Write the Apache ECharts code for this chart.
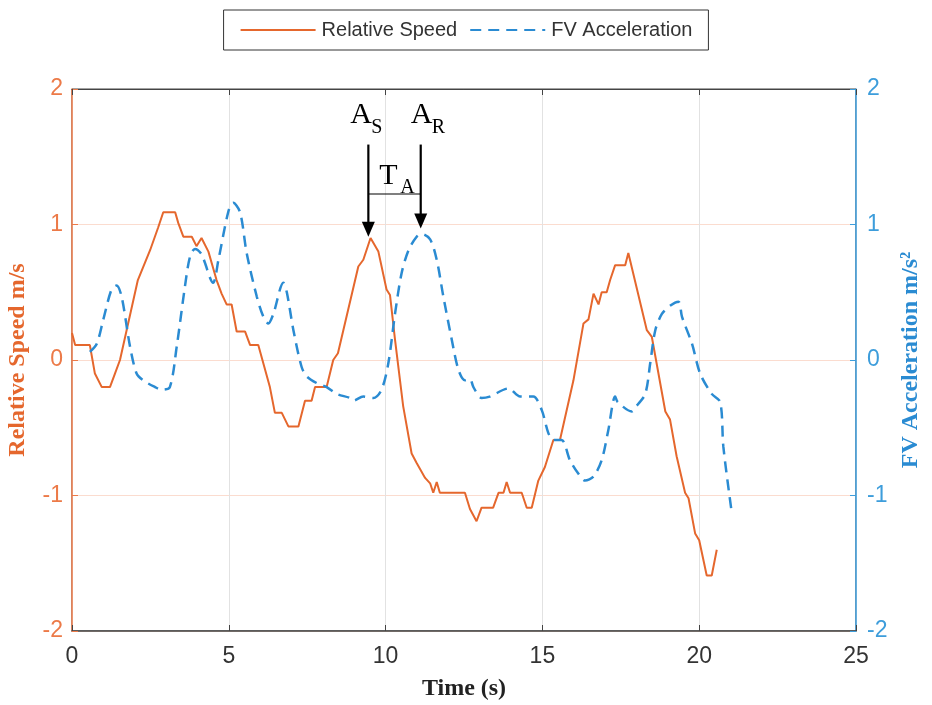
<!DOCTYPE html>
<html lang="en">
<head>
  <meta charset="UTF-8">
  <title>Relative Speed and FV Acceleration</title>
  <script src="https://cdn.jsdelivr.net/npm/echarts@6.0.0/dist/echarts.min.js"></script>
  <style>
    html, body { margin: 0; padding: 0; background: #fff; }
    #chart { width: 932px; height: 705px; }
  </style>
</head>
<body>
  <div id="chart"></div>
  <script>
    // Relative speed (left axis, m/s)
    const speedT = [0, 0.1, 0.57, 0.73, 0.95, 1.21, 1.37, 1.53, 2.1, 2.49, 2.75, 2.91, 3.29, 3.39, 3.55, 3.82,
      3.97, 4.13, 4.35, 4.61, 4.77, 4.93, 5.09, 5.25, 5.52, 5.68, 5.94, 6.31, 6.47, 6.69, 6.9, 7.22, 7.43, 7.64,
      7.75, 8.12, 8.33, 8.48, 9.13, 9.29, 9.52, 9.77, 10.03, 10.14, 10.3, 10.56, 10.83, 10.99, 11.26, 11.42,
      11.52, 11.63, 11.73, 12.53, 12.69, 12.9, 13.06, 13.43, 13.6, 13.76, 13.86, 13.97, 14.34, 14.5, 14.66,
      14.87, 15.08, 15.35, 15.56, 15.99, 16.31, 16.47, 16.63, 16.79, 16.89, 17.05, 17.16, 17.32, 17.64, 17.74,
      18.33, 18.49, 18.92, 19.07, 19.28, 19.55, 19.66, 19.87, 20.0, 20.24, 20.4, 20.56];
    const speedV = [0.2, 0.11, 0.11, -0.1, -0.2, -0.2, -0.1, 0, 0.59, 0.81, 0.98, 1.09, 1.09, 1.01, 0.91, 0.91,
      0.84, 0.9, 0.8, 0.59, 0.49, 0.41, 0.41, 0.21, 0.21, 0.11, 0.11, -0.2, -0.39, -0.39, -0.49, -0.49, -0.3, -0.3,
      -0.2, -0.2, 0, 0.05, 0.69, 0.74, 0.9, 0.8, 0.52, 0.48, 0.15, -0.34, -0.69, -0.76, -0.87, -0.91,
      -0.98, -0.9, -0.98, -0.98, -1.1, -1.19, -1.09, -1.09, -0.98, -0.98, -0.9, -0.98, -0.98, -1.09, -1.09,
      -0.89, -0.79, -0.59, -0.59, -0.15, 0.27, 0.3, 0.49, 0.41, 0.5, 0.5, 0.59, 0.7, 0.7, 0.79,
      0.22, 0.17, -0.38, -0.44, -0.71, -0.98, -1.02, -1.28, -1.33, -1.59, -1.59, -1.4];

    // FV acceleration (right axis, m/s^2)
    const accT = [0.57, 0.79, 1.0, 1.26, 1.42, 1.58, 1.85, 2.06, 2.27, 2.65, 2.86, 3.12, 3.34, 3.6, 3.76, 3.92,
      4.13, 4.5, 4.67, 4.99, 5.14, 5.36, 5.57, 5.89, 6.1, 6.26, 6.42, 6.74, 6.85, 7.06, 7.32, 7.48, 7.8, 8.12,
      8.44, 8.86, 8.97, 9.29, 9.61, 9.87, 10.09, 10.3, 10.51, 10.73, 10.99, 11.15, 11.42, 11.63, 11.84, 12.11,
      12.32, 12.53, 12.69, 12.8, 13.06, 13.32, 13.92, 14.29, 14.71, 14.98, 15.19, 15.35, 15.61, 15.88, 16.15,
      16.36, 16.63, 16.89, 17.1, 17.32, 17.4, 17.85, 18.0, 18.28, 18.44, 18.6, 18.81, 19.07, 19.34, 19.45,
      19.77, 20.03, 20.4, 20.67, 20.77, 21.04];
    const accV = [0.06, 0.12, 0.3, 0.52, 0.55, 0.47, 0.1, -0.1, -0.15, -0.2, -0.22, -0.2, 0.1, 0.54, 0.76, 0.82,
      0.78, 0.57, 0.74, 1.1, 1.16, 1.09, 0.79, 0.47, 0.32, 0.27, 0.34, 0.57, 0.5, 0.22, -0.05, -0.12, -0.17, -0.2,
      -0.25, -0.28, -0.3, -0.27, -0.28, -0.22, -0.02, 0.34, 0.64, 0.81, 0.91, 0.93, 0.89, 0.74, 0.47, 0.15,
      -0.07, -0.15, -0.14, -0.2, -0.28, -0.27, -0.21, -0.27, -0.27, -0.37, -0.54, -0.59, -0.59, -0.74, -0.84,
      -0.89, -0.86, -0.74, -0.52, -0.27, -0.31, -0.38, -0.34, -0.25, -0.02, 0.22, 0.34, 0.4, 0.43, 0.32,
      0.12, -0.1, -0.25, -0.31, -0.64, -1.13];

    // annotation anchors (data units)
    const arrowS = { t: 9.45, top: 1.59, tip: 0.91 };
    const arrowR = { t: 11.12, top: 1.59, tip: 0.97 };
    const barY = 1.225;

    const orange = '#E5672D';
    const orangeAxis = '#EC7A48';
    const blue = '#2A8BD2';
    const blueAxis = '#3D9DDB';
    const serif = 'Liberation Serif, Times New Roman, serif';

    const chart = echarts.init(document.getElementById('chart'));

    const option = {
      animation: false,
      textStyle: { fontFamily: 'Liberation Sans, Arial, sans-serif' },
      legend: {
        left: 'center',
        top: 10,
        padding: [10, 16, 10, 16],
        borderColor: '#333',
        borderWidth: 1,
        itemWidth: 75,
        itemHeight: 4,
        itemGap: 12,
        itemStyle: { opacity: 0 },
        textStyle: { fontSize: 20, color: '#333', padding: [0, 0, 0, 1] },
        data: ['Relative Speed', 'FV Acceleration']
      },
      grid: {
        left: 72, right: 76, top: 89, bottom: 74,
        outerBoundsMode: 'none',
        show: true, borderColor: '#444', borderWidth: 1
      },
      xAxis: [{
        type: 'value', min: 0, max: 25, interval: 5,
        name: 'Time (s)', nameLocation: 'middle', nameGap: 46,
        nameTextStyle: { fontFamily: serif, fontWeight: 'bold', fontSize: 24, color: '#222' },
        axisLine: { show: true, onZero: false, lineStyle: { color: '#444', width: 1.5 } },
        axisTick: { show: true, inside: true, length: 6, lineStyle: { color: '#444' } },
        axisLabel: { fontSize: 23, color: '#333', margin: 14 },
        splitLine: { show: true, lineStyle: { color: '#e2e2e2', width: 1 } }
      }, {
        type: 'value', min: 0, max: 25, interval: 5, position: 'top',
        axisLine: { show: true, onZero: false, lineStyle: { color: '#444' } },
        axisTick: { show: true, inside: true, length: 6, lineStyle: { color: '#444' } },
        axisLabel: { show: false },
        splitLine: { show: false }
      }],
      yAxis: [{
        type: 'value', min: -2, max: 2, interval: 1, position: 'left',
        name: 'Relative Speed m/s', nameLocation: 'middle', nameGap: 42, nameRotate: 90,
        nameTextStyle: { fontFamily: serif, fontWeight: 'bold', fontSize: 24, color: orange },
        axisLine: { show: true, onZero: false, lineStyle: { color: orangeAxis, width: 1.5 } },
        axisTick: { show: true, inside: true, length: 6, lineStyle: { color: orangeAxis } },
        axisLabel: { fontSize: 23, color: orangeAxis, margin: 9 },
        splitLine: { show: true, lineStyle: { color: '#fbdccf', width: 1 } }
      }, {
        type: 'value', min: -2, max: 2, interval: 1, position: 'right',
        name: 'FV Acceleration m/s²', nameLocation: 'middle', nameGap: 27, nameRotate: 90,
        nameTextStyle: { fontFamily: serif, fontWeight: 'bold', fontSize: 24, color: blue },
        axisLine: { show: true, onZero: false, lineStyle: { color: blueAxis, width: 1.5 } },
        axisTick: { show: true, inside: true, length: 6, lineStyle: { color: blueAxis } },
        axisLabel: { fontSize: 23, color: blueAxis, margin: 11 },
        splitLine: { show: false }
      }],
      series: [{
        name: 'Relative Speed',
        type: 'line',
        yAxisIndex: 0,
        symbol: 'none',
        color: orange,
        lineStyle: { color: orange, width: 2 },
        data: speedT.map((t, i) => [t, speedV[i]])
      }, {
        name: 'FV Acceleration',
        type: 'line',
        yAxisIndex: 1,
        symbol: 'none',
        smooth: 0.3,
        color: blue,
        lineStyle: { color: blue, width: 2.5, type: [11, 7] },
        data: accT.map((t, i) => [t, accV[i]])
      }]
    };

    chart.setOption(option);

    // Annotations placed through the axes
    const px = (t, v) => chart.convertToPixel({ xAxisIndex: 0, yAxisIndex: 0 }, [t, v]);

    function arrow(a) {
      const p0 = px(a.t, a.top);
      const p1 = px(a.t, a.tip);
      const headLen = 15, headHalf = 6.5;
      return [{
        type: 'line', z: 100,
        shape: { x1: p0[0], y1: p0[1], x2: p1[0], y2: p1[1] - headLen + 1 },
        style: { stroke: '#000', lineWidth: 2.2 }
      }, {
        type: 'polygon', z: 100,
        shape: { points: [[p1[0] - headHalf, p1[1] - headLen], [p1[0] + headHalf, p1[1] - headLen], [p1[0], p1[1]]] },
        style: { fill: '#000' }
      }];
    }

    function label(x, y, main, sub) {
      return [{
        type: 'text', z: 100, x: x, y: y,
        style: { text: main, font: '30px ' + serif, fill: '#000', align: 'left', verticalAlign: 'middle' }
      }, {
        type: 'text', z: 100, x: x + 21, y: y + 12,
        style: { text: sub, font: '20px ' + serif, fill: '#000', align: 'left', verticalAlign: 'middle' }
      }];
    }

    const pS = px(arrowS.t, arrowS.top);
    const pR = px(arrowR.t, arrowR.top);
    const pBarS = px(arrowS.t, barY);
    const pBarR = px(arrowR.t, barY);

    const graphics = []
      .concat(arrow(arrowS), arrow(arrowR))
      .concat([{
        type: 'line', z: 100,
        shape: { x1: pBarS[0], y1: pBarS[1], x2: pBarR[0], y2: pBarR[1] },
        style: { stroke: '#000', lineWidth: 1.2 }
      }])
      .concat(label(pS[0] - 18, pS[1] - 29, 'A', 'S'))
      .concat(label(pR[0] - 10, pR[1] - 29, 'A', 'R'))
      .concat(label(pBarS[0] + 11, pBarS[1] - 18, 'T', 'A'));

    chart.setOption({ graphic: graphics });
  </script>
</body>
</html>
